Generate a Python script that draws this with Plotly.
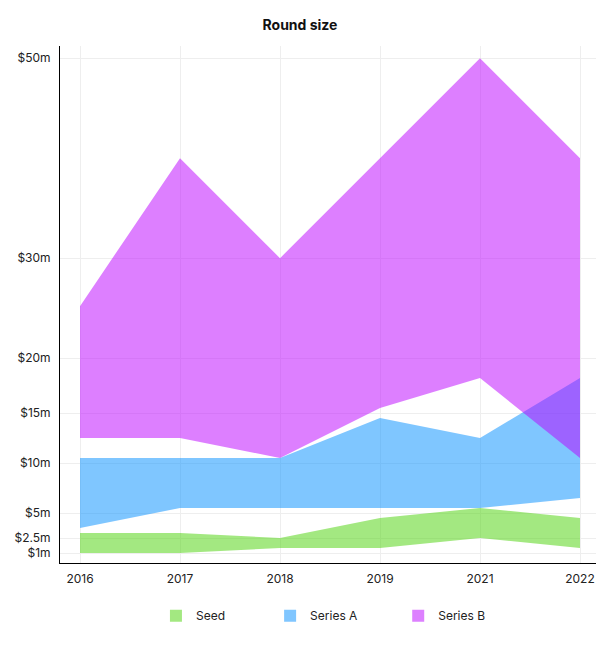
import plotly.graph_objects as go

years = ['2016', '2017', '2018', '2019', '2021', '2022']

# low / high of each round range ($m)
seed_low = [1, 1, 1.5, 1.5, 2.5, 1.5]
seed_high = [3, 3, 2.5, 4.5, 5.5, 4.5]
series_a_low = [3.5, 5.5, 5.5, 5.5, 5.5, 6.5]
series_a_high = [10.5, 10.5, 10.5, 14.5, 12.5, 18.5]
series_b_low = [12.5, 12.5, 10.5, 15.5, 18.5, 10.5]
series_b_high = [25.7, 40.5, 30.5, 40.5, 50.5, 40.5]

tick_vals = [1, 2.5, 5, 10, 15, 20.5, 30.5, 50.5]
tick_text = ['$1m', '$2.5m', '$5m', '$10m', '$15m', '$20m', '$30m', '$50m']

series = [
    ('Seed', seed_low, seed_high, 'rgba(71,209,3,0.5)', '#a3e881', 'legend', 0.179),
    ('Series A', series_a_low, series_a_high, 'rgba(0,141,255,0.5)', '#80c6ff', 'legend2', 0.392),
    ('Series B', series_b_low, series_b_high, 'rgba(187,0,255,0.5)', '#dd80ff', 'legend3', 0.631),
]

fig = go.Figure()

legend_style = dict(
    orientation='h', xanchor='left', y=-0.102, yanchor='middle',
    font=dict(size=12, color='#222'), bgcolor='rgba(0,0,0,0)'
)

for name, low, high, fill, swatch, leg, leg_x in series:
    fig.add_trace(go.Scatter(
        x=years, y=low, mode='lines', line=dict(width=0),
        showlegend=False, hoverinfo='skip'
    ))
    fig.add_trace(go.Scatter(
        x=years, y=high, mode='lines', line=dict(width=0),
        fill='tonexty', fillcolor=fill, name=name, showlegend=False
    ))
    # square swatch for the legend, one legend box per series
    fig.add_trace(go.Scatter(
        x=[None], y=[None], mode='markers', name=name, legend=leg,
        marker=dict(symbol='square', size=12, color=swatch)
    ))
    fig.update_layout({leg: dict(legend_style, x=leg_x)})

fig.update_layout(
    width=616,
    height=645,
    margin=dict(l=60, r=20, t=46, b=82),
    paper_bgcolor='white',
    plot_bgcolor='white',
    font=dict(family='Inter', size=12, color='#222'),
    title=dict(
        text='<b>Round size</b>', x=0.487, xref='container', xanchor='center',
        y=0.961, yanchor='middle', font=dict(size=14, color='#111')
    ),
    showlegend=True,
)

fig.update_xaxes(
    type='category', range=[-0.2, 5.16],
    showgrid=True, gridcolor='#eeeeee', gridwidth=1,
    showline=True, linecolor='black', linewidth=1,
    ticks='', ticklabelstandoff=5, zeroline=False
)
fig.update_yaxes(
    range=[0, 51.73], tickvals=tick_vals, ticktext=tick_text,
    showgrid=True, gridcolor='#eeeeee', gridwidth=1,
    showline=True, linecolor='black', linewidth=1,
    ticks='', ticklabelstandoff=6, zeroline=False
)

# drop the default 8px body margin so the figure sits at the page corner
fig.write_html(
    'out.html',
    config={'displayModeBar': False},
    post_script="document.body.style.margin = '0';"
)
